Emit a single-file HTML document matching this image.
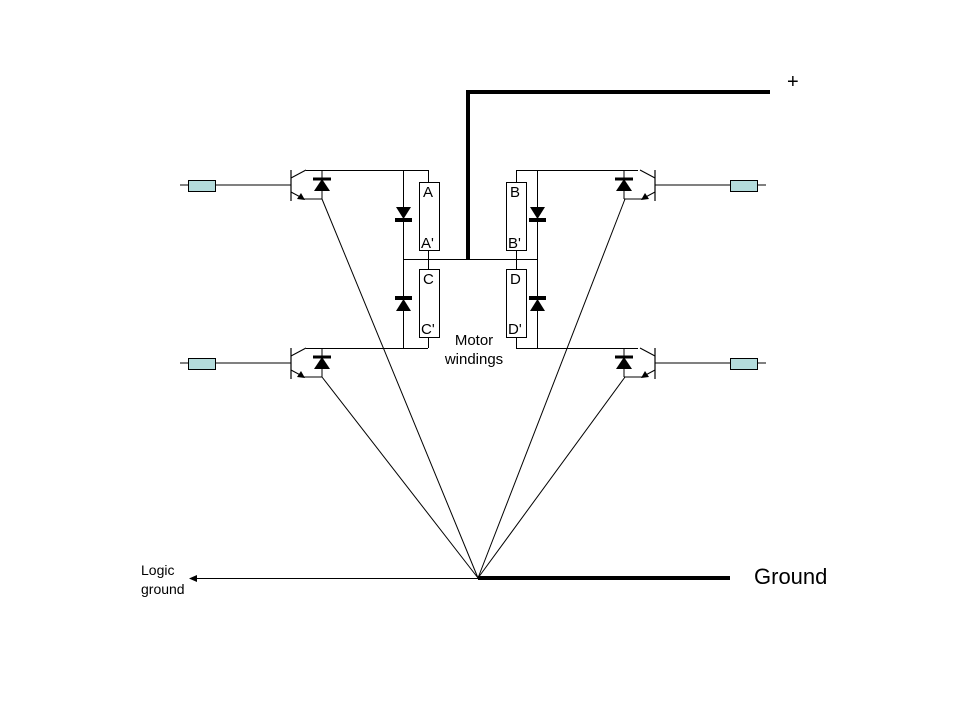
<!DOCTYPE html>
<html><head><style>body{margin:0;background:#fff}svg{display:block}</style></head>
<body>
<svg width="960" height="720" viewBox="0 0 960 720" xmlns="http://www.w3.org/2000/svg" font-family="Liberation Sans, sans-serif">
<defs>
<g id="tr">
  <line x1="180" y1="15" x2="291" y2="15" stroke="#000"/>
  <rect x="188.5" y="10.5" width="27" height="11" fill="#b4dcdc" stroke="#000"/>
  <line x1="291" y1="0" x2="291" y2="31" stroke="#000" stroke-width="1.2"/>
  <polyline points="291,8 306,0" fill="none" stroke="#000"/>
  <polyline points="291,22 304,29 322,29" fill="none" stroke="#000"/>
  <polygon points="305,30 297,29 301,23" fill="#000"/>
  <line x1="322" y1="0" x2="322" y2="29" stroke="#000"/>
  <polygon points="322,9 314,21 330,21" fill="#000"/>
  <rect x="313" y="7.5" width="18" height="3" fill="#000"/>
</g>
</defs>
<g stroke="#000" fill="none">
  <line x1="306" y1="170.5" x2="428" y2="170.5"/>
  <line x1="306" y1="348.5" x2="428" y2="348.5"/>
  <line x1="428.5" y1="170" x2="428.5" y2="182"/>
  <line x1="428.5" y1="250" x2="428.5" y2="269"/>
  <line x1="428.5" y1="337" x2="428.5" y2="348"/>
  <line x1="403.5" y1="170" x2="403.5" y2="348"/>
  <rect x="419.5" y="182.5" width="20" height="68"/>
  <rect x="419.5" y="269.5" width="20" height="68"/>
  <line x1="516" y1="170.5" x2="638" y2="170.5"/>
  <line x1="516" y1="348.5" x2="638" y2="348.5"/>
  <line x1="516.5" y1="170" x2="516.5" y2="182"/>
  <line x1="516.5" y1="250" x2="516.5" y2="269"/>
  <line x1="516.5" y1="337" x2="516.5" y2="348"/>
  <line x1="537.5" y1="170" x2="537.5" y2="348"/>
  <rect x="506.5" y="182.5" width="20" height="68"/>
  <rect x="506.5" y="269.5" width="20" height="68"/>
  <line x1="403" y1="259.5" x2="537" y2="259.5"/>
  <polyline points="468,259 468,92 770,92" stroke-width="4"/>
  <line x1="478" y1="578" x2="730" y2="578" stroke-width="4"/>
  <line x1="478" y1="578.5" x2="196" y2="578.5"/>
  <line x1="322" y1="199" x2="478" y2="578"/>
  <line x1="322" y1="377" x2="478" y2="578"/>
  <line x1="625" y1="199" x2="478" y2="578"/>
  <line x1="625" y1="377" x2="478" y2="578"/>
</g>
<polygon points="189,578.5 197,575 197,582" fill="#000"/>
<g fill="#000">
  <polygon points="396,207 411,207 403.5,219"/><rect x="395" y="218" width="17" height="4"/>
  <polygon points="396,311 411,311 403.5,299"/><rect x="395" y="296" width="17" height="4"/>
  <polygon points="530,207 545,207 537.5,219"/><rect x="529" y="218" width="17" height="4"/>
  <polygon points="530,311 545,311 537.5,299"/><rect x="529" y="296" width="17" height="4"/>
</g>
<use href="#tr" transform="translate(0,170)"/>
<use href="#tr" transform="translate(0,348)"/>
<use href="#tr" transform="translate(946,170) scale(-1,1)"/>
<use href="#tr" transform="translate(946,348) scale(-1,1)"/>
<g font-size="15" fill="#000">
  <text x="423" y="197">A</text>
  <text x="421" y="248">A'</text>
  <text x="423" y="284">C</text>
  <text x="421" y="334">C'</text>
  <text x="510" y="197">B</text>
  <text x="508" y="248">B'</text>
  <text x="510" y="284">D</text>
  <text x="508" y="334">D'</text>
  <text x="474" y="345" text-anchor="middle">Motor</text>
  <text x="474" y="364" text-anchor="middle">windings</text>
  <text x="141" y="575" font-size="14">Logic</text>
  <text x="141" y="594" font-size="14">ground</text>
  <text x="787" y="88" font-size="20">+</text>
  <text x="754" y="584" font-size="22">Ground</text>
</g>
</svg>
</body></html>
